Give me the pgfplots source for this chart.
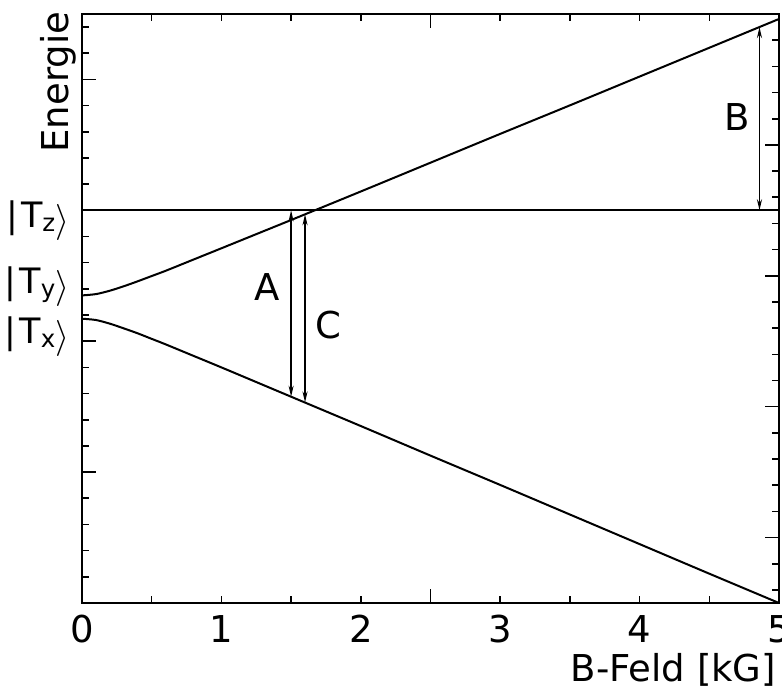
\documentclass[border=0pt]{standalone}
\usepackage{pgfplots}
\pgfplotsset{compat=1.18}
\usepackage{pgfplotstable}
\usepackage{graphicx}
\usepackage{fontspec}
\setmainfont{DejaVu Sans}
\usetikzlibrary{arrows.meta}

% Triplet sublevels versus magnetic field
\pgfplotstableread{
x    upper  lower
0    11.75  10.86
0.1  11.80  10.81
0.2  11.93  10.67
0.3  12.10  10.49
0.4  12.29  10.30
0.5  12.49  10.09
0.6  12.69  9.88
0.8  13.12  9.44
1.0  13.55  9.00
1.25 14.09  8.44
1.5  14.63  7.88
2.0  15.72  6.76
2.5  16.82  5.63
3.0  17.92  4.51
3.5  19.01  3.38
4.0  20.11  2.25
4.5  21.21  1.12
5.0  22.31  0.00
}\levels

\newcommand\bigfont{\fontsize{37}{40}\selectfont}
\newcommand\ketfont{\fontsize{35}{38}\selectfont}
\newcommand\ket[1]{|\kern3pt T\textsubscript{#1}\raisebox{-0.12em}{\scalebox{1.45}{$\rangle$}}}

\tikzset{dbl/.style={line width=1.6pt,
  arrows={Stealth[length=11pt,width=5pt]-Stealth[length=11pt,width=5pt]}}}

\begin{document}
\begin{tikzpicture}
\useasboundingbox (-82pt,-90pt) rectangle (700pt,603pt);
\begin{axis}[
  at={(0pt,0pt)}, anchor=south west,
  scale only axis, width=697pt, height=589pt,
  xmin=0, xmax=5, ymin=0, ymax=22.5,
  clip=false,
  axis line style={line width=1.7pt},
  every tick/.style={black, line width=1.6pt},
  xtick={0,...,5}, minor x tick num=1,
  ytick={0,...,22}, yticklabels={}, ytick pos=left,
  major tick length=7pt, minor tick length=7pt,
  extra x ticks={2.5}, extra x tick labels={},
  extra x tick style={major tick length=14pt},
  extra y ticks={5,10,15,20}, extra y tick labels={},
  extra y tick style={major tick length=14pt},
  /pgf/number format/assume math mode=true,
  xticklabel style={font=\bigfont, anchor=base, yshift=-40pt},
]
  \addplot[black, line width=2pt, smooth] table[x=x, y=upper] {\levels};
  \addplot[black, line width=2pt, smooth] table[x=x, y=lower] {\levels};
  \addplot[black, line width=2pt] coordinates {(0,15.0) (5,15.0)};

  % transitions
  \addplot[dbl] coordinates {(1.5,7.88) (1.5,15.0)};
  \addplot[dbl] coordinates {(1.6,7.66) (1.6,14.85)};
  \addplot[dbl] coordinates {(4.86,15.0) (4.86,22.0)};

  \node[font=\bigfont] at (axis cs:1.33,12.07) {A};
  \node[font=\bigfont] at (axis cs:1.77,10.6) {C};
  \node[font=\bigfont] at (axis cs:4.70,18.56) {B};

  \node[font=\ketfont, anchor=base east, inner sep=0pt] at (axis cs:-0.086,14.36) {\ket{z}};
  \node[font=\ketfont, anchor=base east, inner sep=0pt] at (axis cs:-0.086,11.84) {\ket{y}};
  \node[font=\ketfont, anchor=base east, inner sep=0pt] at (axis cs:-0.086,9.93) {\ket{x}};

  \node[font=\bigfont, rotate=90, inner sep=0pt] at (axis cs:-0.172,19.9) {Energie};
  \node[font=\bigfont, anchor=base east, inner sep=0pt] at (axis cs:4.98,-3.0) {B-Feld [kG]};
\end{axis}
\begin{axis}[
  at={(0pt,0pt)}, anchor=south west,
  scale only axis, width=697pt, height=589pt,
  xmin=0, xmax=5, ymin=0, ymax=22.5,
  axis line style={line width=1.7pt},
  every tick/.style={black, line width=1.6pt},
  xtick=\empty,
  ytick={0.5,1.5,...,21.5}, yticklabels={}, ytick pos=right,
  major tick length=7pt,
  extra y ticks={2.5,7.5,12.5,17.5}, extra y tick labels={},
  extra y tick style={major tick length=14pt},
]
\end{axis}
\end{tikzpicture}
\end{document}
